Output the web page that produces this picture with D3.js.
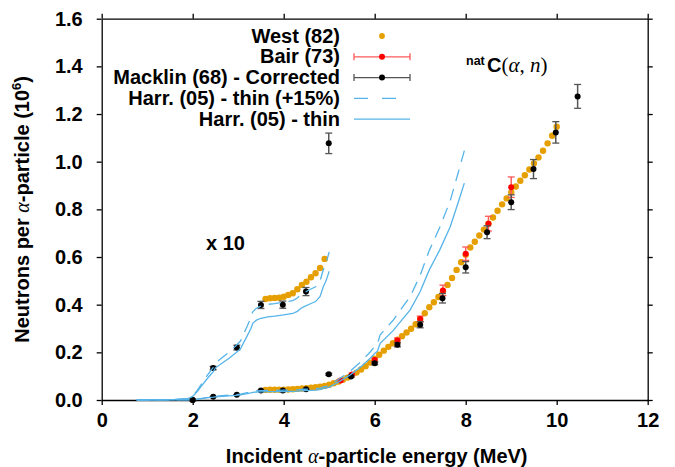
<!DOCTYPE html>
<html>
<head>
<meta charset="utf-8">
<script src="https://cdn.jsdelivr.net/npm/d3@7/dist/d3.min.js"></script>
<style>
  body { margin: 0; background: #fff; }
  svg text { font-family: "Liberation Sans", Arial, Helvetica, sans-serif; font-weight: bold; fill: #000; }
  .math { font-family: "Liberation Serif", "DejaVu Serif", serif; font-style: italic; font-weight: normal; }
  .paren { font-family: "Liberation Serif", "DejaVu Serif", serif; font-weight: normal; }
</style>
</head>
<body>
<svg id="chart" width="675" height="467"></svg>
<script>
// ---- data: natC(alpha,n) thick-target neutron yields (units of 1e-6 n per alpha) ----
const xTicks = [0, 2, 4, 6, 8, 10, 12];
const yTicks = [0.0, 0.2, 0.4, 0.6, 0.8, 1.0, 1.2, 1.4, 1.6];

// West (82)
const westE = [3.6, 3.7, 3.8, 3.9, 4.0, 4.1, 4.2, 4.3, 4.4, 4.5, 4.6, 4.7, 4.8, 4.9,
  5.0, 5.1, 5.2, 5.3, 5.4, 5.5, 5.6, 5.7, 5.8, 5.9, 6.0, 6.1, 6.2, 6.3, 6.4, 6.5,
  6.6, 6.7, 6.8, 6.9, 7.0, 7.1, 7.2, 7.3, 7.4, 7.5, 7.6, 7.7, 7.8, 7.9, 8.0, 8.1,
  8.2, 8.3, 8.4, 8.5, 8.6, 8.7, 8.8, 8.9, 9.0, 9.1, 9.2, 9.3, 9.4, 9.5, 9.6, 9.7,
  9.8, 9.9, 10.0];
const westY = [0.0424, 0.0427, 0.0428, 0.0429, 0.0433, 0.0441, 0.0448, 0.0465, 0.0483, 0.0496, 0.0515, 0.0532, 0.0554, 0.0592,
  0.064, 0.070, 0.077, 0.085, 0.094, 0.104, 0.115, 0.128, 0.142, 0.157, 0.173, 0.190, 0.207, 0.223, 0.238, 0.253,
  0.268, 0.283, 0.299, 0.318, 0.340, 0.364, 0.389, 0.410, 0.432, 0.456, 0.483, 0.512, 0.546, 0.578, 0.610, 0.640,
  0.664, 0.690, 0.715, 0.740, 0.766, 0.794, 0.821, 0.846, 0.872, 0.896, 0.920, 0.943, 0.967, 0.993, 1.018, 1.046,
  1.077, 1.109, 1.147];

// Bair (73)
const bairE = [5.25, 5.5, 6.0, 6.5, 7.0, 7.5, 8.0, 8.5, 9.0];
const bairY = [0.082, 0.107, 0.168, 0.250, 0.340, 0.460, 0.614, 0.740, 0.893];
const bairErr = [0.004, 0.005, 0.008, 0.010, 0.012, 0.022, 0.028, 0.031, 0.043];

// Macklin (68) - Corrected
const mackE = [2.0, 2.45, 2.97, 3.5, 3.98, 4.49, 4.99, 5.48, 6.0, 6.5, 7.0, 7.49, 8.0, 8.47, 9.0, 9.49, 9.98, 10.46];
const mackY = [0.0, 0.0134, 0.022, 0.0399, 0.0400, 0.0455, 0.1077, 0.099, 0.154, 0.232, 0.316, 0.427, 0.557, 0.704, 0.830, 0.969, 1.123, 1.274];
const mackErr = [0.0005, 0.0007, 0.001, 0.0015, 0.0015, 0.0017, 0.0043, 0.004, 0.006, 0.009, 0.013, 0.020, 0.024, 0.027, 0.031, 0.040, 0.045, 0.050];

// Harrissopulos (05), thin-target based yield
const harrE = [0.77, 1.2, 1.6, 1.9, 2.0, 2.1, 2.2, 2.3, 2.4, 2.45, 2.5, 2.65, 2.8, 2.95, 3.05, 3.2, 3.28, 3.32,
  3.4, 3.5, 3.65, 3.8, 4.0, 4.2, 4.3, 4.38, 4.45, 4.6, 4.7, 4.8, 4.87, 4.93, 5.0, 5.2, 5.46, 5.7, 5.9, 6.0,
  6.06, 6.12, 6.4, 6.78, 7.0, 7.2, 7.43, 7.66, 7.84, 7.97];
const harrThin = [0, 0.0001, 0.0002, 0.0006, 0.0015, 0.0035, 0.006, 0.0085, 0.0108, 0.0118, 0.0135, 0.0155, 0.0175, 0.0198, 0.0215, 0.027, 0.030, 0.0322,
  0.0335, 0.0343, 0.0349, 0.0352, 0.0357, 0.0363, 0.0372, 0.0385, 0.0392, 0.0405, 0.0413, 0.0435, 0.0475, 0.050, 0.054, 0.075, 0.105, 0.140, 0.175, 0.195,
  0.205, 0.238, 0.290, 0.378, 0.455, 0.546, 0.630, 0.727, 0.832, 0.910];

const insetFactor = 10;       // "x 10" magnified low-energy copy
const insetMaxE = 5.0;        // curves and Macklin points in the magnified copy
const insetWestMaxE = 4.9;    // West points in the magnified copy
const harrUplift = 1.15;      // "+15%" variant

// ---- layout ----
const W = 675, H = 467;
const m = { left: 101.7, right: 27.3, top: 18.7, bottom: 67 };
const svg = d3.select("#chart");

const x = d3.scaleLinear().domain([0, 12]).range([m.left, W - m.right]);
const y = d3.scaleLinear().domain([0, 1.6]).range([H - m.bottom, m.top]);

const COL = { west: "#E69F00", bair: "#FF0000", bairBar: "#FF5A5A", mack: "#000", mackBar: "#555", harr: "#56B4E9" };

// ---- axes (box with outward ticks) ----
const axisStyle = g => {
  g.selectAll("path.domain").attr("stroke", "#000").attr("stroke-width", 1.3);
  g.selectAll(".tick line").attr("stroke", "#000").attr("stroke-width", 1.3);
  g.selectAll(".tick text").attr("font-size", 20).attr("font-family", "Liberation Sans, Arial, sans-serif").attr("font-weight", "bold");
};
svg.append("g").attr("transform", `translate(0,${y(0)})`)
  .call(d3.axisBottom(x).tickValues(xTicks).tickFormat(d3.format("d")).tickSize(5).tickSizeOuter(0).tickPadding(8))
  .call(axisStyle);
svg.append("g").attr("transform", `translate(0,${y(1.6)})`)
  .call(d3.axisTop(x).tickValues(xTicks).tickFormat("").tickSize(5).tickSizeOuter(0))
  .call(axisStyle);
svg.append("g").attr("transform", `translate(${x(0)},0)`)
  .call(d3.axisLeft(y).tickValues(yTicks).tickFormat(d3.format(".1f")).tickSize(5).tickSizeOuter(0).tickPadding(14))
  .call(axisStyle);
svg.append("g").attr("transform", `translate(${x(12)},0)`)
  .call(d3.axisRight(y).tickValues(yTicks).tickFormat("").tickSize(5).tickSizeOuter(0))
  .call(axisStyle);

// ---- axis titles ----
const xt = svg.append("text").attr("x", (x(0) + x(12)) / 2 + 2).attr("y", 463)
  .attr("text-anchor", "middle").attr("font-size", 20);
xt.append("tspan").text("Incident ");
xt.append("tspan").attr("class", "math").text("α");
xt.append("tspan").text("-particle energy (MeV)");

const yt = svg.append("text").attr("transform", `translate(29,${(y(0) + y(1.6)) / 2}) rotate(-90)`)
  .attr("text-anchor", "middle").attr("font-size", 20);
yt.append("tspan").text("Neutrons per ");
yt.append("tspan").attr("class", "math").text("α");
yt.append("tspan").text("-particle (10");
yt.append("tspan").attr("font-size", 13).attr("dy", -8).text("6");
yt.append("tspan").attr("dy", 8).text(")");

// ---- helpers ----
const plot = svg.append("g");
const zip = (a, b, k = 1) => a.map((e, i) => ({ e, v: b[i] * k }));
const line = d3.line().x(d => x(d.e)).y(d => y(d.v));

function errorPoints(E, V, Err, k, col, barCol) {
  const pts = E.map((e, i) => ({ e, v: V[i] * k, err: Err[i] * k }));
  const g = plot.append("g");
  const eb = g.selectAll("g.eb").data(pts).join("g");
  eb.append("line").attr("x1", d => x(d.e)).attr("x2", d => x(d.e))
    .attr("y1", d => y(d.v - d.err)).attr("y2", d => y(d.v + d.err))
    .attr("stroke", barCol).attr("stroke-width", 1.5);
  [-1, 1].forEach(s => eb.append("line")
    .attr("x1", d => x(d.e) - 3.5).attr("x2", d => x(d.e) + 3.5)
    .attr("y1", d => y(d.v + s * d.err)).attr("y2", d => y(d.v + s * d.err))
    .attr("stroke", barCol).attr("stroke-width", 1.3));
  g.selectAll("circle").data(pts).join("circle")
    .attr("cx", d => x(d.e)).attr("cy", d => y(d.v)).attr("r", 3).attr("fill", col);
}

function drawSet(k, maxE, westMaxE) {
  const keep = (e, lim) => e <= lim + 1e-9;
  // West
  const wi = westE.map((e, i) => i).filter(i => keep(westE[i], westMaxE));
  plot.append("g").selectAll("circle").data(wi).join("circle")
    .attr("cx", i => x(westE[i])).attr("cy", i => y(westY[i] * k))
    .attr("r", 3.2).attr("fill", COL.west);
  // Bair
  const bi = bairE.map((e, i) => i).filter(i => keep(bairE[i], maxE));
  errorPoints(bi.map(i => bairE[i]), bi.map(i => bairY[i]), bi.map(i => bairErr[i]), k, COL.bair, COL.bairBar);
  // Macklin
  const mi = mackE.map((e, i) => i).filter(i => keep(mackE[i], maxE));
  errorPoints(mi.map(i => mackE[i]), mi.map(i => mackY[i]), mi.map(i => mackErr[i]), k, COL.mack, COL.mackBar);
  // Harrissopulos curves
  const hp = zip(harrE, harrThin, k).filter(d => keep(d.e, maxE));
  const hpUp = zip(harrE, harrThin, k * harrUplift).filter(d => keep(d.e, maxE));
  plot.append("path").datum(hpUp).attr("d", line).attr("fill", "none")
    .attr("stroke", COL.harr).attr("stroke-width", 1.3).attr("stroke-dasharray", "12,8");
  plot.append("path").datum(hp).attr("d", line).attr("fill", "none")
    .attr("stroke", COL.harr).attr("stroke-width", 1.3);
}

drawSet(1, 99, 99);
drawSet(insetFactor, insetMaxE, insetWestMaxE);

// ---- annotations ----
svg.append("text").attr("x", 206).attr("y", 250).attr("font-size", 20).text("x 10");

const ann = svg.append("g");
ann.append("text").attr("x", 466).attr("y", 65).attr("font-size", 12.5).text("nat");
const cn = ann.append("text").attr("x", 487).attr("y", 72).attr("font-size", 20);
cn.append("tspan").text("C");
cn.append("tspan").attr("class", "paren").attr("font-size", 21).text("(");
cn.append("tspan").attr("class", "math").attr("font-size", 21).text("α");
cn.append("tspan").attr("class", "paren").attr("font-size", 21).text(", ");
cn.append("tspan").attr("class", "math").attr("font-size", 21).text("n");
cn.append("tspan").attr("class", "paren").attr("font-size", 21).text(")");

// ---- legend ----
const legendItems = [
  { label: "West (82)", type: "dot", col: COL.west },
  { label: "Bair (73)", type: "err", col: COL.bair, bar: COL.bairBar },
  { label: "Macklin (68) - Corrected", type: "err", col: COL.mack, bar: COL.mackBar },
  { label: "Harr. (05) - thin (+15%)", type: "dash", col: COL.harr },
  { label: "Harr. (05) - thin", type: "line", col: COL.harr }
];
const lx0 = 354, lx1 = 410, lxm = 382;
const leg = svg.append("g");
legendItems.forEach((it, i) => {
  const yy = 36 + i * 20.8;
  leg.append("text").attr("x", 340).attr("y", yy + 6.5).attr("text-anchor", "end")
    .attr("font-size", 20).text(it.label);
  if (it.type === "dot") {
    leg.append("circle").attr("cx", lxm).attr("cy", yy).attr("r", 2.9).attr("fill", it.col);
  } else if (it.type === "err") {
    leg.append("line").attr("x1", lx0).attr("x2", lx1).attr("y1", yy).attr("y2", yy)
      .attr("stroke", it.bar).attr("stroke-width", 1.3);
    [lx0, lx1].forEach(cx => leg.append("line").attr("x1", cx).attr("x2", cx)
      .attr("y1", yy - 3.5).attr("y2", yy + 3.5).attr("stroke", it.bar).attr("stroke-width", 1.3));
    leg.append("circle").attr("cx", lxm).attr("cy", yy).attr("r", 3).attr("fill", it.col);
  } else {
    leg.append("line").attr("x1", lx0).attr("x2", lx1).attr("y1", yy).attr("y2", yy)
      .attr("stroke", it.col).attr("stroke-width", 1.3)
      .attr("stroke-dasharray", it.type === "dash" ? "14,14" : null);
  }
});
</script>
</body>
</html>
